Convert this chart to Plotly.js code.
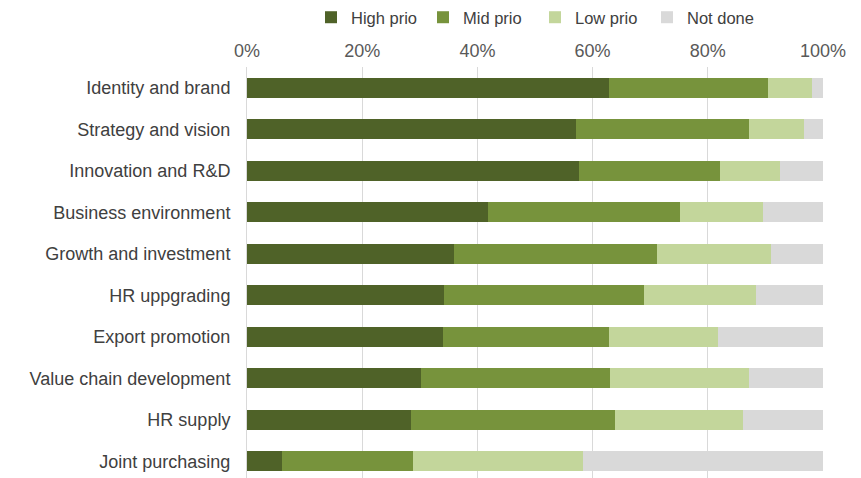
<!DOCTYPE html>
<html><head><meta charset="utf-8">
<script src="https://cdn.plot.ly/plotly-3.0.1.min.js"></script>
<style>html,body{margin:0;padding:0;overflow:hidden;background:#fff}#chart{width:861px;height:482px}</style>
</head><body><div id="chart"></div>
<script>
const categories = ["Identity and brand","Strategy and vision","Innovation and R&D","Business environment","Growth and investment","HR uppgrading","Export promotion","Value chain development","HR supply","Joint purchasing"];
const highPrio = [62.9,57.2,57.7,41.8,35.9,34.2,34.0,30.2,28.5,6.0];
const midPrio  = [27.5,29.9,24.4,33.3,35.2,34.7,28.9,32.9,35.4,22.9];
const lowPrio  = [7.7,9.6,10.5,14.5,19.9,19.4,18.9,24.0,22.2,29.4];
const notDone  = [1.9,3.3,7.4,10.4,9.0,11.7,18.2,12.9,13.9,41.7];
const seriesNames = ["High prio","Mid prio","Low prio","Not done"];
const xTicks = [0,20,40,60,80,100];
const xTickLabels = ["0%","20%","40%","60%","80%","100%"];

const colors = ["#4F6228","#77933C","#C3D69B","#D9D9D9"];
const data = [highPrio, midPrio, lowPrio, notDone].map((vals, i) => ({
  type: "bar", orientation: "h", name: seriesNames[i],
  x: vals, y: categories,
  marker: {color: colors[i], line: {width: 0}},
  hoverinfo: "skip"
}));

const layout = {
  width: 861, height: 482,
  margin: {l: 247, r: 38, t: 67, b: 0},
  barmode: "stack", bargap: 0.52,
  paper_bgcolor: "#fff", plot_bgcolor: "#fff",
  font: {family: "Liberation Sans, Arial, sans-serif", size: 18, color: "#404040"},
  showlegend: true,
  legend: {orientation: "h", x: 0.5, xanchor: "center", yref: "container", y: 1, yanchor: "top",
           font: {size: 16.5, color: "#404040"}, traceorder: "normal", itemwidth: 30, tracegroupgap: 0,
           entrywidth: 67},
  xaxis: {side: "top", range: [0, 100], tickvals: xTicks, ticktext: xTickLabels,
          showgrid: true, gridcolor: "#D9D9D9", gridwidth: 1, zeroline: false, showline: false,
          ticks: "", ticklabelstandoff: 5, tickfont: {size: 18, color: "#595959"}, fixedrange: true},
  yaxis: {autorange: "reversed", type: "category", showgrid: false, zeroline: false,
          showline: true, linecolor: "#D9D9D9", linewidth: 1, ticks: "", ticklabelstandoff: 12,
          tickfont: {size: 18, color: "#404040"}, fixedrange: true}
};
Plotly.newPlot("chart", data, layout, {displayModeBar: false, staticPlot: true});
</script></body></html>
